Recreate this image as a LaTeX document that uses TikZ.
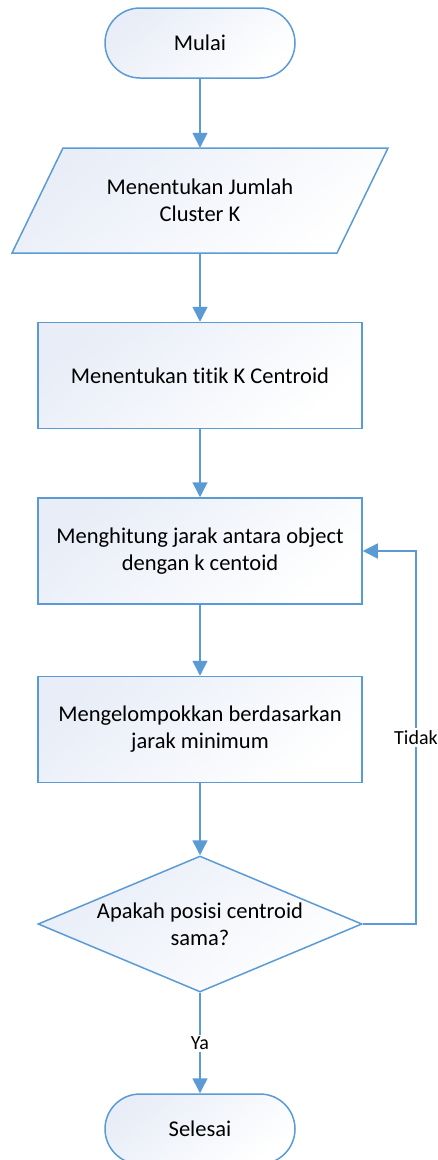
\documentclass[tikz,border=0pt]{standalone}
\usepackage{fontspec}
\setmainfont{Carlito}[Ligatures=NoCommon]
\usepackage{tikz}
\usetikzlibrary{arrows.meta, positioning, shapes.geometric}
\definecolor{lineblue}{HTML}{5B9BD5}
\definecolor{fillblue}{HTML}{E8EDF7}

\begin{document}
\begin{tikzpicture}[
  x=1pt, y=-1pt,
  font=\fontsize{22.5}{27}\selectfont,
  base/.style={draw=lineblue, line width=1.5pt, align=center,
               top color=fillblue, bottom color=white, shading angle=40},
  term/.style={base, rectangle, rounded corners=35pt,
               minimum width=190pt, minimum height=70pt},
  iotext/.style={rectangle, align=center, minimum width=324pt, minimum height=105pt},
  proc/.style={base, rectangle, minimum width=324pt, minimum height=106pt},
  dec/.style={base, diamond, aspect=2.38, inner sep=0pt,
              minimum width=324pt, minimum height=136pt},
  arr/.style={-{Triangle[length=15pt, width=15pt]}, draw=lineblue, line width=1.5pt},
  lbl/.style={fill=white, inner sep=2pt, font=\fontsize{20}{24}\selectfont}
]
\useasboundingbox (0,0) rectangle (438,1160);
%% input parallelogram outline, text node on top
\path[base] (63,148) -- (388,148) -- (337,253) -- (12,253) -- cycle;
%% nodes (one column at x=200)
\node[term]   (start) at (200, 43)    {Mulai};
\node[iotext] (jumk)  at (200, 200.5) {Menentukan Jumlah\\Cluster K};
\node[proc]   (cent)  at (200, 375.5) {Menentukan titik K Centroid};
\node[proc]   (jarak) at (200, 551)   {Menghitung jarak antara object\\dengan k centoid};
\node[proc]   (grup)  at (200, 729.5) {Mengelompokkan berdasarkan\\jarak minimum};
\node[dec]    (cek)   at (200, 924)   {Apakah posisi centroid\\sama?};
\node[term]   (stop)  at (200, 1129)  {Selesai};
%% loop-back corner
\coordinate (back) at (416, 924);
%% arrows
\draw[arr] (start) -- (jumk);
\draw[arr] (jumk)  -- (cent);
\draw[arr] (cent)  -- (jarak);
\draw[arr] (jarak) -- (grup);
\draw[arr] (grup)  -- (cek);
\draw[arr] (cek)   -- (stop)
    node[lbl, pos=0.5] {Ya};
\draw[arr] (cek.east) -- (back) |- (jarak.east)
    node[lbl, pos=0.25] {Tidak};
\end{tikzpicture}
\end{document}
